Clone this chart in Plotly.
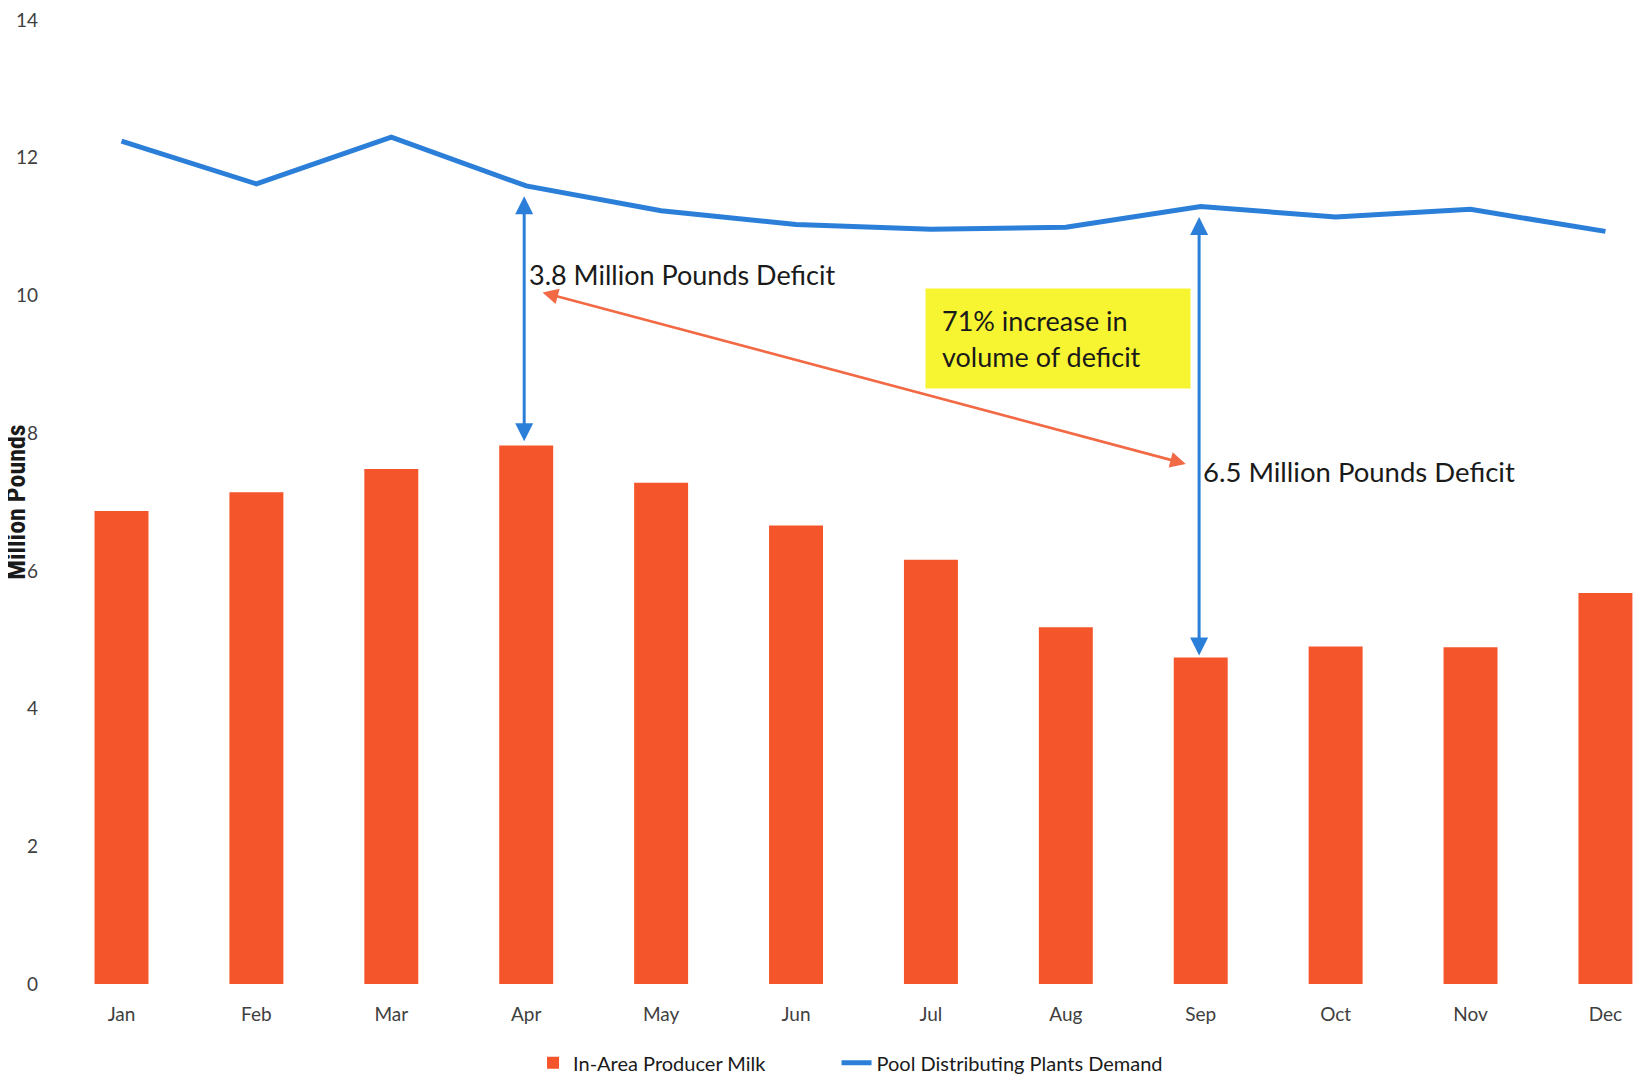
import plotly.graph_objects as go

months = ["Jan", "Feb", "Mar", "Apr", "May", "Jun", "Jul", "Aug", "Sep", "Oct", "Nov", "Dec"]
producer_milk = [6.87, 7.14, 7.48, 7.82, 7.28, 6.66, 6.16, 5.18, 4.74, 4.90, 4.89, 5.68]
plant_demand = [12.24, 11.62, 12.30, 11.59, 11.23, 11.03, 10.96, 10.99, 11.29, 11.14, 11.25, 10.93]
y_ticks = [0, 2, 4, 6, 8, 10, 12, 14]

BAR = "#F4552A"
BLUE = "#2B7FD8"
TXT = "#1a1a1a"
FONT = "Lato, 'Open Sans', sans-serif"

fig = go.Figure()
fig.add_trace(go.Bar(x=months, y=producer_milk, name="In-Area Producer Milk",
                     marker=dict(color=BAR, line=dict(width=0)), width=0.4, legend="legend"))
fig.add_trace(go.Scatter(x=months, y=plant_demand, name="Pool Distributing Plants Demand",
                         mode="lines", line=dict(color=BLUE, width=5), legend="legend2"))

ann = []
# Apr deficit arrow
i_apr = months.index("Apr")
ann.append(dict(x=i_apr - 0.015, y=plant_demand[i_apr] - 0.15, ax=i_apr - 0.015, ay=producer_milk[i_apr] + 0.04,
                xref="x", yref="y", axref="x", ayref="y", text="", showarrow=True,
                arrowside="end+start", arrowhead=2, startarrowhead=2, arrowsize=1.2, startarrowsize=1.2,
                arrowwidth=3, arrowcolor=BLUE))
# Sep deficit arrow
i_sep = months.index("Sep")
ann.append(dict(x=i_sep - 0.012, y=plant_demand[i_sep] - 0.15, ax=i_sep - 0.012, ay=producer_milk[i_sep] + 0.01,
                xref="x", yref="y", axref="x", ayref="y", text="", showarrow=True,
                arrowside="end+start", arrowhead=2, startarrowhead=2, arrowsize=1.2, startarrowsize=1.2,
                arrowwidth=3, arrowcolor=BLUE))
# Orange comparison arrow
ann.append(dict(x=7.889, y=7.553, ax=3.11, ay=10.05,
                xref="x", yref="y", axref="x", ayref="y", text="", showarrow=True,
                arrowside="end+start", arrowhead=2, startarrowhead=2, arrowsize=1.2, startarrowsize=1.2,
                arrowwidth=2.6, arrowcolor="#F26A45"))
ann.append(dict(x=3.005, y=10.31, xref="x", yref="y", text="3.8 Million Pounds Deficit",
                showarrow=False, xanchor="left", yanchor="middle",
                font=dict(family=FONT, size=27, color=TXT)))
ann.append(dict(x=8.0, y=7.45, xref="x", yref="y", text="6.5 Million Pounds Deficit",
                showarrow=False, xanchor="left", yanchor="middle",
                font=dict(family=FONT, size=27.5, color=TXT)))
ann.append(dict(x=6.943, y=9.378, xref="x", yref="y", text="71% increase in<br>volume of deficit",
                showarrow=False, xanchor="center", yanchor="middle", align="left",
                width=232, height=67, borderpad=16, bgcolor="#F7F531", valign="middle",
                font=dict(family=FONT, size=27, color=TXT)))
ann.append(dict(x=-0.0246, y=0.5, xref="paper", yref="paper", text="<b>Million Pounds</b>",
                showarrow=False, textangle=-90, xanchor="center", yanchor="middle", borderpad=0,
                font=dict(family="'Liberation Sans Narrow', 'Roboto Condensed', Roboto, sans-serif", size=26, color=TXT)))

# note: the page body has an 8px default margin, compensated in the margins below
legend_font = dict(family=FONT, size=20, color=TXT)
fig.update_layout(
    width=1641, height=1078,
    margin=dict(l=47, r=0, t=12, b=102),
    plot_bgcolor="white", paper_bgcolor="white",
    showlegend=True,
    legend=dict(orientation="h", x=0.2999, xanchor="left", y=-0.0818, yanchor="middle", font=legend_font),
    legend2=dict(orientation="h", x=0.4903, xanchor="left", y=-0.0818, yanchor="middle", font=legend_font),
    annotations=ann,
)
fig.update_xaxes(range=[-0.493, 11.323], showgrid=False, zeroline=False, showline=False, automargin=False,
                 tickfont=dict(family=FONT, size=19, color="#404040"), ticks="", ticklabelstandoff=17)
fig.update_yaxes(range=[0, 14], tickvals=y_ticks, showgrid=False, zeroline=False, showline=False, automargin=False,
                 tickfont=dict(family=FONT, size=19, color="#404040"), ticks="", ticklabelstandoff=16,
                 ticklabeloverflow="allow")

fig.write_html("out.html")
